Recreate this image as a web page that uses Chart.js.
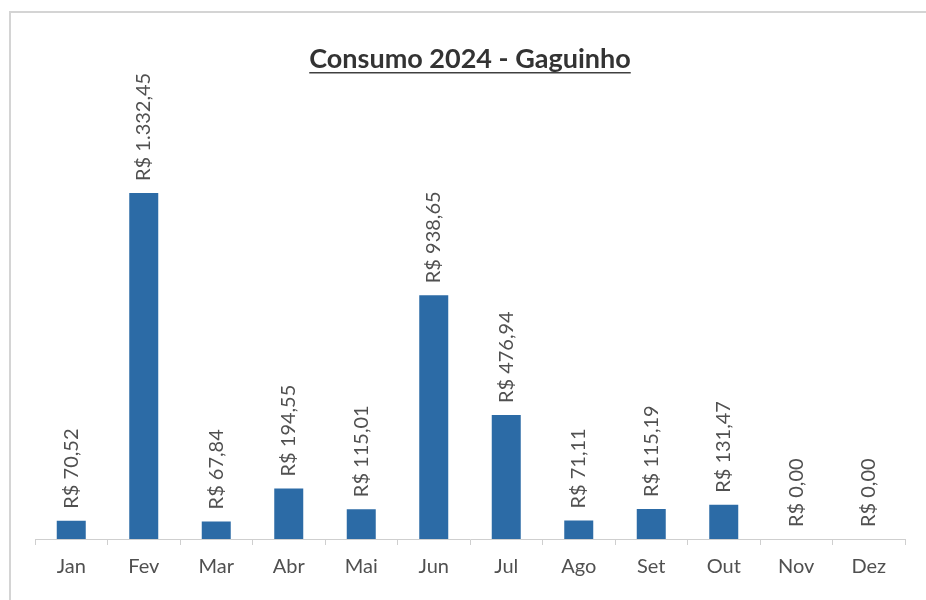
<!DOCTYPE html>
<html lang="pt-BR">
<head>
<meta charset="utf-8">
<title>Consumo 2024 - Gaguinho</title>
<script src="https://cdn.jsdelivr.net/npm/chart.js@4.4.1/dist/chart.umd.min.js"></script>
<style>
  html, body { margin: 0; padding: 0; background: #fff; }
  #wrap { width: 926px; height: 600px; position: relative; }
</style>
</head>
<body>
<div id="wrap"><canvas id="chart" width="926" height="600"></canvas></div>
<script>
// dados do gráfico
const meses = ['Jan', 'Fev', 'Mar', 'Abr', 'Mai', 'Jun', 'Jul', 'Ago', 'Set', 'Out', 'Nov', 'Dez'];
const consumo = [70.52, 1332.45, 67.84, 194.55, 115.01, 938.65, 476.94, 71.11, 115.19, 131.47, 0, 0];
const titulo = 'Consumo 2024 - Gaguinho';

const fmtBRL = v => 'R$ ' + v.toLocaleString('pt-BR', { minimumFractionDigits: 2, maximumFractionDigits: 2 });

// moldura da área do gráfico (estilo Excel)
const moldura = {
    id: 'moldura',
    beforeDraw(chart) {
        const c = chart.ctx;
        c.save();
        c.fillStyle = '#fff';
        c.fillRect(0, 0, chart.width, chart.height);
        c.strokeStyle = '#d4d4d4';
        c.lineWidth = 2;
        c.strokeRect(10, 12, chart.width + 20, chart.height + 20);
        c.restore();
    }
};

// sublinhado do título
const sublinhado = {
    id: 'sublinhado',
    afterDraw(chart) {
        const tb = chart.titleBlock;
        if (!tb) return;
        const c = chart.ctx;
        const f = chart.options.plugins.title.font;
        c.save();
        c.font = `bold ${f.size}px ${f.family}`;
        const w = c.measureText(titulo).width;
        const cx = tb.left + tb.width / 2;
        const y = tb.top + tb.options.padding.top + f.size * 1.2 / 2 + f.size * 0.5;
        c.strokeStyle = '#404040';
        c.lineWidth = 1.5;
        c.beginPath();
        c.moveTo(cx - w / 2, y);
        c.lineTo(cx + w / 2, y);
        c.stroke();
        c.restore();
    }
};

// rótulos de valor na vertical
const rotulos = {
    id: 'rotulos',
    afterDatasetsDraw(chart) {
        const c = chart.ctx;
        const meta = chart.getDatasetMeta(0);
        c.save();
        c.font = '20px Lato';
        c.fillStyle = '#505050';
        c.textAlign = 'left';
        c.textBaseline = 'middle';
        meta.data.forEach((bar, i) => {
            c.save();
            c.translate(bar.x, bar.y - 12);
            c.rotate(-Math.PI / 2);
            c.fillText(fmtBRL(consumo[i]), 0, 0);
            c.restore();
        });
        c.restore();
    }
};

const ctx = document.getElementById('chart').getContext('2d');
new Chart(ctx, {
    type: 'bar',
    data: {
        labels: meses,
        datasets: [{
            label: 'Consumo',
            data: consumo,
            backgroundColor: '#2c6ba6',
            borderWidth: 0,
            barPercentage: 0.8,
            categoryPercentage: 0.5
        }]
    },
    options: {
        responsive: false,
        animation: false,
        layout: { padding: { left: 35, right: 21, top: 43, bottom: 11 } },
        scales: {
            x: {
                grid: {
                    offset: true,
                    drawOnChartArea: false,
                    drawTicks: true,
                    tickLength: 6,
                    color: '#cfcfcf'
                },
                border: { display: true, color: '#cfcfcf', width: 1 },
                ticks: {
                    padding: 10,
                    color: '#505050',
                    font: { family: 'Lato', size: 20 }
                }
            },
            y: {
                display: false,
                min: 0,
                max: 1500
            }
        },
        plugins: {
            legend: { display: false },
            tooltip: { enabled: false },
            title: {
                display: true,
                text: titulo,
                color: '#333333',
                font: { family: 'Lato', size: 27, weight: 'bold' },
                padding: { top: 0, bottom: 74 }
            }
        }
    },
    plugins: [moldura, sublinhado, rotulos]
});
</script>
</body>
</html>
